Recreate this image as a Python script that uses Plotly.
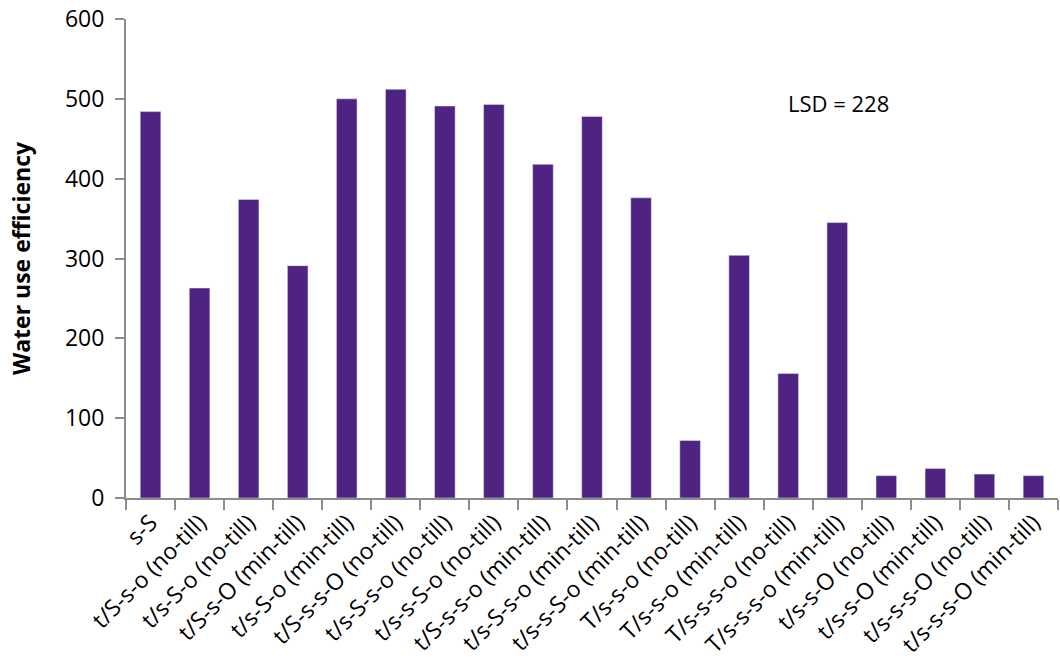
import plotly.graph_objects as go

categories = [
    "s-S",
    "t/S-s-o (no-till)",
    "t/s-S-o (no-till)",
    "t/S-s-O (min-till)",
    "t/s-S-o (min-till)",
    "t/S-s-s-O (no-till)",
    "t/s-S-s-o (no-till)",
    "t/s-s-S-o (no-till)",
    "t/S-s-s-o (min-till)",
    "t/s-S-s-o (min-till)",
    "t/s-s-S-o (min-till)",
    "T/s-s-o (no-till)",
    "T/s-s-o (min-till)",
    "T/s-s-s-o (no-till)",
    "T/s-s-s-o (min-till)",
    "t/s-s-O (no-till)",
    "t/s-s-O (min-till)",
    "t/s-s-s-O (no-till)",
    "t/s-s-s-O (min-till)",
]
wue = [484, 263, 374, 291, 500, 512, 491, 493, 418, 478, 376, 72, 304, 156, 345, 28, 37, 30, 28]
y_ticks = [0, 100, 200, 300, 400, 500, 600]

fig = go.Figure(go.Bar(x=categories, y=wue, marker_color="#4f2382", width=0.42))

font_family = "Open Sans, Lato, sans-serif"
fig.update_layout(
    width=1060, height=666,
    margin=dict(l=126, r=2, t=19, b=168),
    plot_bgcolor="white", paper_bgcolor="white",
    font=dict(family=font_family, size=23, color="black"),
    showlegend=False,
    annotations=[dict(text="LSD = 228", xref="paper", yref="y", x=0.764, y=495,
                      xanchor="center", yanchor="middle",
                      showarrow=False, font=dict(size=22))],
)
fig.update_yaxes(range=[0, 600], tickvals=y_ticks, showgrid=False, zeroline=False,
                 showline=True, linecolor="#8c8c8c", linewidth=2, automargin=False,
                 ticks="outside", ticklen=9, tickcolor="#8c8c8c", tickwidth=2,
                 ticklabelstandoff=6,
                 title=dict(text="<b>Water use efficiency</b>", font=dict(size=23), standoff=28))
fig.update_xaxes(showline=True, linecolor="#8c8c8c", linewidth=2, tickangle=-45,
                 ticks="outside", ticklen=10, tickcolor="#8c8c8c", tickwidth=2, automargin=False,
                 tickson="boundaries", showgrid=False)

fig.write_html("out.html", config={"displayModeBar": False},
               post_script="document.body.style.margin='0';")
